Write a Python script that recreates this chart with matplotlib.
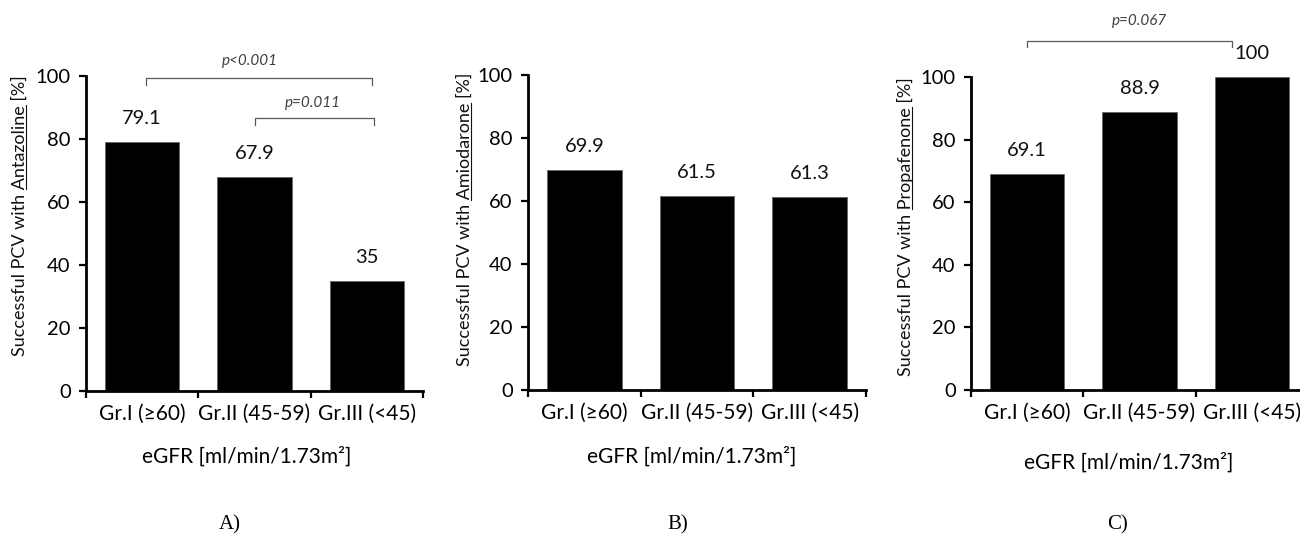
import numpy as np
import matplotlib
matplotlib.use('Agg')
import matplotlib.pyplot as plt
from matplotlib.lines import Line2D

plt.rcParams['font.family'] = ['Lato', 'DejaVu Sans']

groups = ['Gr.I (≥60)', 'Gr.II (45-59)', 'Gr.III (<45)']
antazoline = [79.1, 67.9, 35]
amiodarone = [69.9, 61.5, 61.3]
propafenone = [69.1, 88.9, 100]
drugs = ['Antazoline', 'Amiodarone', 'Propafenone']
panel_tags = ['A)', 'B)', 'C)']
xlabel = 'eGFR [ml/min/1.73m²]'

# significance brackets: (x0, x1, y_line, y_tick, text, x_text, y_text)
brackets_a = [(0.03, 2.05, 99.4, 97.1, 'p<0.001', 0.96, 104.8),
              (1.0, 2.06, 86.7, 84.4, 'p=0.011', 1.52, 91.4)]
brackets_c = [(0.0, 1.82, 111.5, 109.6, 'p=0.067', 1.0, 117.9)]

W, H = 1300, 537
fig = plt.figure(figsize=(W / 100, H / 100), dpi=100)

# axes boxes in pixels: left, right, top(100), bottom(0)
boxes = [(86, 423, 76, 391), (528, 866, 75, 390), (971, 1308, 77, 390)]
xlab_pos = [(247, 457), (692, 457), (1129, 463)]
tag_pos = [(230, 525), (678, 525), (1117, 525)]
ylab_x = [20, 465, 905]
ylab_top = [75, 73, 77]

FS = 15      # x tick labels, axis title
FSN = 14.5   # y ticks, bar values
FSY = 13     # rotated y label

ylabels = []
for i, (vals, drug) in enumerate(zip([antazoline, amiodarone, propafenone], drugs)):
    l, r, t, b = boxes[i]
    ax = fig.add_axes([l / W, 1 - b / H, (r - l) / W, (b - t) / H])
    x = np.arange(len(groups))
    ax.bar(x, vals, width=0.66, color='black', edgecolor='#666666', linewidth=0.6)
    for xi, v in zip(x, vals):
        ax.annotate(f'{v:g}', (xi, v), xytext=(0, 17), textcoords='offset points',
                    ha='center', va='center', fontsize=FSN, color='#111111')
    ax.set_xlim(-0.5, 2.5)
    ax.set_ylim(0, 100)
    for s in ['top', 'right']:
        ax.spines[s].set_visible(False)
    for s in ['left', 'bottom']:
        ax.spines[s].set_linewidth(2)
    ax.set_yticks([0, 20, 40, 60, 80, 100])
    ax.tick_params(axis='y', direction='out', length=5, width=1.6, labelsize=FSN, pad=6)
    ax.set_xticks([-0.5, 0.5, 1.5, 2.5])
    ax.set_xticklabels([])
    ax.tick_params(axis='x', which='major', direction='out', length=5, width=1.6)
    ax.set_xticks(x, minor=True)
    ax.set_xticklabels(groups, minor=True, fontsize=FS)
    ax.tick_params(axis='x', which='minor', length=0, pad=9)

    brs = brackets_a if i == 0 else (brackets_c if i == 2 else [])
    for x0, x1, yl, yt, txt, xt, ytt in brs:
        ax.plot([x0, x0, x1, x1], [yt, yl, yl, yt], color='#595959', lw=0.9, clip_on=False)
        ax.text(xt, ytt, txt, ha='center', va='center', fontsize=11, style='italic',
                color='#404040', clip_on=False)

    fig.text(xlab_pos[i][0] / W, 1 - xlab_pos[i][1] / H, xlabel, ha='center', va='center',
             fontsize=FS)
    fig.text(tag_pos[i][0] / W, 1 - tag_pos[i][1] / H, panel_tags[i], ha='center', va='center',
             fontsize=15, family='Liberation Serif')
    yt_ = fig.text(ylab_x[i] / W, 1 - ylab_top[i] / H, f'Successful PCV with {drug} [%]',
                   rotation=90, ha='center', va='top', fontsize=FSY, color='#111111')
    ylabels.append((yt_, drug))

# underline the drug name in each y label
fig.canvas.draw()
rend = fig.canvas.get_renderer()
for t, drug in ylabels:
    bb = t.get_window_extent(rend)
    tmp = fig.text(0, 0, f'Successful PCV with {drug}', fontsize=FSY)
    w_all = tmp.get_window_extent(rend).width
    tmp.set_text(drug)
    w_word = tmp.get_window_extent(rend).width
    tmp.remove()
    y0 = bb.y0 + w_all - w_word
    y1 = bb.y0 + w_all
    xu = bb.x1 - 2
    fig.add_artist(Line2D([xu / W, xu / W], [y0 / H, y1 / H], transform=fig.transFigure,
                          color='#111111', lw=0.8))

fig.savefig('out.png', dpi=100)
